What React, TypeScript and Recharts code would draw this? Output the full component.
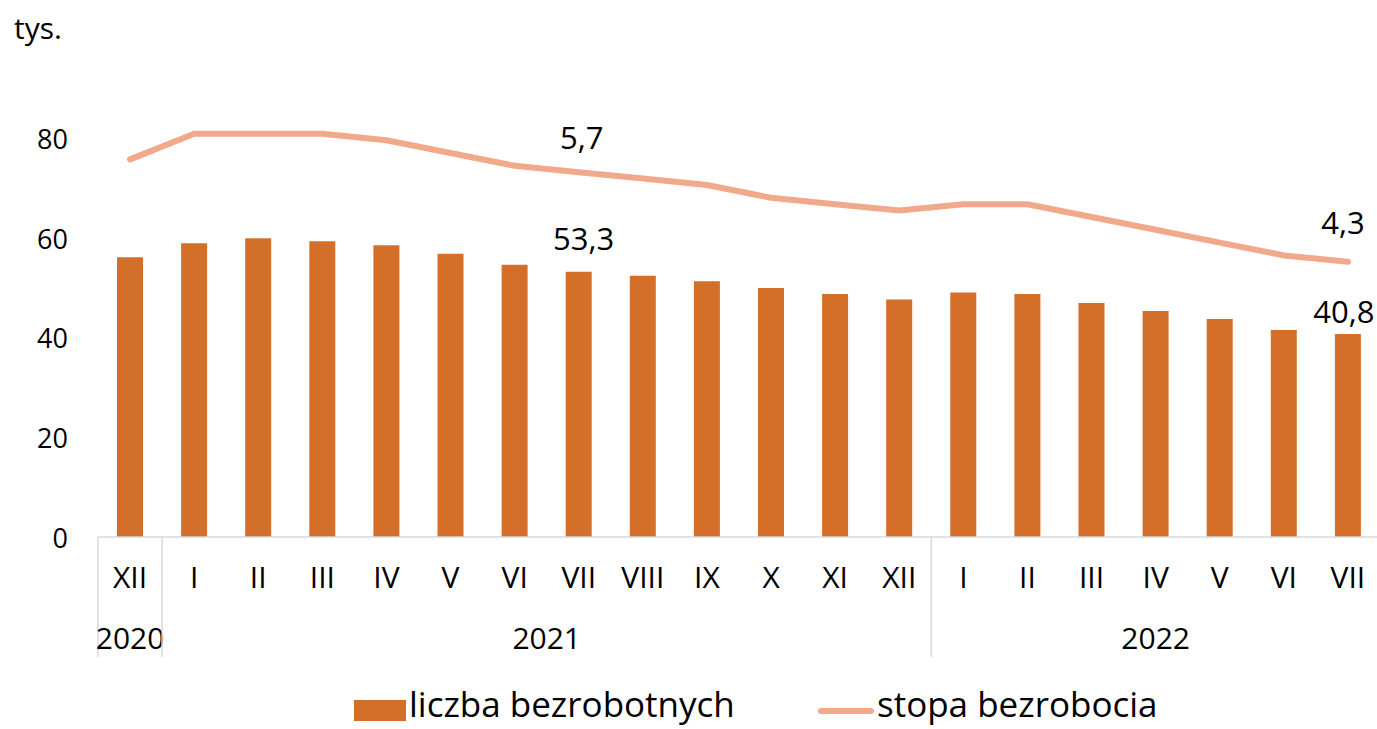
import React from "react";
import {
  ComposedChart,
  Bar,
  Line,
  XAxis,
  YAxis,
  Legend,
  LabelList,
} from "recharts";

const months = ["XII", "I", "II", "III", "IV", "V", "VI", "VII", "VIII", "IX", "X", "XI", "XII", "I", "II", "III", "IV", "V", "VI", "VII"];
const unemployed = [56.2, 59.0, 60.0, 59.4, 58.6, 56.9, 54.7, 53.3, 52.5, 51.4, 50.0, 48.8, 47.7, 49.1, 48.8, 47.0, 45.4, 43.8, 41.6, 40.8];
const rate = [5.9, 6.3, 6.3, 6.3, 6.2, 6.0, 5.8, 5.7, 5.6, 5.5, 5.3, 5.2, 5.1, 5.2, 5.2, 5.0, 4.8, 4.6, 4.4, 4.3];
const yearLabels = ["2020", "2021", "2022"];
const yearStarts = [0, 1, 13];
const yearLengths = [1, 12, 7];
const leftTicks = [0, 20, 40, 60, 80];
const labeledIndices = [7, 19];

const data = months.map((m, i) => ({ m, bars: unemployed[i], rate: rate[i] }));

const FONT = "'Open Sans', sans-serif";
const BAR_COLOR = "#D46F2A";
const LINE_COLOR = "#F2A88B";
const AXIS_COLOR = "#D9D9D9";

const CHART_W = 1390;
const CHART_H = 729;
const MARGIN = { top: 89, right: 10, left: 0, bottom: 0 };
const Y_AXIS_W = 98;
const PLOT_W = CHART_W - MARGIN.left - MARGIN.right - Y_AXIS_W;
const STEP = PLOT_W / months.length;
const AXIS_Y = 537;
const SEP_BOTTOM = 657;

const fmt = (v: number) => v.toFixed(1).replace(".", ",");

const YTick = (props: any) => {
  const { y, payload } = props;
  return (
    <text x={68} y={y} textAnchor="end" dominantBaseline="central" fontSize={27} fontFamily={FONT} fill="#000">
      {payload.value}
    </text>
  );
};

const XTick = (props: any) => {
  const { x, payload } = props;
  const idx = payload.index;
  const g = yearStarts.indexOf(idx);
  const left = x - STEP / 2;
  return (
    <g>
      <text x={x} y={576} textAnchor="middle" dominantBaseline="central" fontSize={30} fontFamily={FONT} fill="#000">
        {payload.value}
      </text>
      {g >= 0 && (
        <g>
          <line x1={left} x2={left} y1={AXIS_Y} y2={SEP_BOTTOM} stroke={AXIS_COLOR} strokeWidth={1.5} />
          <text
            x={left + (yearLengths[g] * STEP) / 2}
            y={637}
            textAnchor="middle"
            dominantBaseline="central"
            fontSize={30}
            fontFamily={FONT}
            fill="#000"
          >
            {yearLabels[g]}
          </text>
        </g>
      )}
    </g>
  );
};

const BarLabel = (props: any) => {
  const { x, y, width, value, index } = props;
  if (!labeledIndices.includes(index)) return null;
  const dy = index === 7 ? 34 : 23;
  const dx = index === 7 ? 5 : -4;
  return (
    <text x={x + width / 2 + dx} y={y - dy} textAnchor="middle" dominantBaseline="central" fontSize={31} fontFamily={FONT} fill="#000">
      {fmt(value)}
    </text>
  );
};

const LineLabel = (props: any) => {
  const { x, y, value, index } = props;
  if (!labeledIndices.includes(index)) return null;
  const dy = index === 7 ? 35 : 40;
  const dx = index === 7 ? 3 : -5;
  return (
    <text x={x + dx} y={y - dy} textAnchor="middle" dominantBaseline="central" fontSize={31} fontFamily={FONT} fill="#000">
      {fmt(value)}
    </text>
  );
};

const LegendContent = () => (
  <div style={{ position: "relative", height: 72, width: CHART_W, fontFamily: FONT, fontSize: 35, color: "#000" }}>
    <div style={{ position: "absolute", left: 354, top: 43, width: 52, height: 21, background: BAR_COLOR }} />
    <div style={{ position: "absolute", left: 409, top: 23, lineHeight: "normal", whiteSpace: "nowrap" }}>liczba bezrobotnych</div>
    <div style={{ position: "absolute", left: 818, top: 51, width: 56, height: 6, borderRadius: 3, background: LINE_COLOR }} />
    <div style={{ position: "absolute", left: 877, top: 23, lineHeight: "normal", whiteSpace: "nowrap" }}>stopa bezrobocia</div>
  </div>
);

export default function App() {
  return (
    <div style={{ position: "absolute", left: 0, top: 0, width: 1377, height: 729, overflow: "hidden", background: "#fff", fontFamily: FONT }}>
      <div style={{ position: "absolute", left: 14, top: 10, fontSize: 30, lineHeight: "36px", color: "#000" }}>tys.</div>
      <ComposedChart width={CHART_W} height={CHART_H} data={data} margin={MARGIN}>
        <XAxis
          dataKey="m"
          xAxisId={0}
          height={120}
          interval={0}
          tickLine={false}
          axisLine={{ stroke: AXIS_COLOR, strokeWidth: 1.5 }}
          tick={<XTick />}
        />
        <YAxis
          yAxisId="left"
          width={Y_AXIS_W}
          domain={[0, 90]}
          ticks={leftTicks}
          axisLine={false}
          tickLine={false}
          tick={<YTick />}
        />
        <YAxis yAxisId="right" orientation="right" hide domain={[0, 7]} />
        <Legend verticalAlign="bottom" content={<LegendContent />} />
        <Bar yAxisId="left" dataKey="bars" fill={BAR_COLOR} barSize={26} isAnimationActive={false}>
          <LabelList dataKey="bars" content={<BarLabel />} />
        </Bar>
        <Line
          yAxisId="right"
          dataKey="rate"
          type="linear"
          stroke={LINE_COLOR}
          strokeWidth={6}
          strokeLinecap="round"
          strokeLinejoin="round"
          dot={false}
          activeDot={false}
          isAnimationActive={false}
        >
          <LabelList dataKey="rate" content={<LineLabel />} />
        </Line>
      </ComposedChart>
    </div>
  );
}
